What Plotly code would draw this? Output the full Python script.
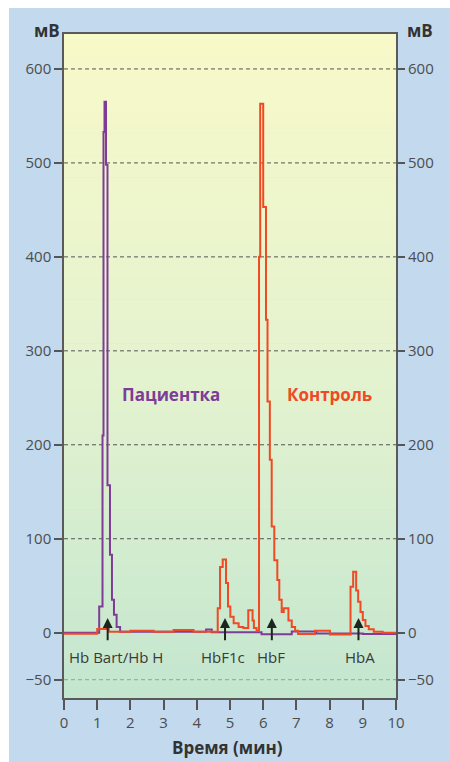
import plotly.graph_objects as go

# ---------------- data ----------------
patient_t = [0.00, 1.06, 1.16, 1.19, 1.22, 1.265, 1.31, 1.385, 1.445, 1.505, 1.585, 1.69,
             4.28, 4.45, 5.95, 6.86, 7.60, 9.00, 10.0]
patient_mv = [0.0, 28, 210, 533, 565, 498, 157, 83, 35, 19, 6, 1,
              3.5, 0.5, -1.7, 1.2, -0.8, -1.5, -1.5]

control_t = [0.00, 1.00, 1.35, 2.00, 2.70, 3.30, 3.90, 4.63, 4.70, 4.78, 4.88, 4.94, 5.01,
             5.11, 5.26, 5.40, 5.55, 5.68, 5.72, 5.80, 5.874, 5.91, 6.00, 6.084, 6.13,
             6.20, 6.256, 6.334, 6.425, 6.485, 6.557, 6.62, 6.76, 6.86, 6.96, 7.05, 7.56,
             8.01, 8.63, 8.71, 8.80, 8.86, 8.93, 9.00, 9.08, 9.18, 9.33, 9.60, 10.0]
control_mv = [-1.0, 4, 1, 2, 1, 3, 1, 26, 70, 78, 53, 28, 17,
              10, 6, 5, 24, 13, 5, 2, 400, 563, 453, 333, 246,
              184, 113, 77, 56, 35, 22, 26, 13, 6, 2, -1.5, 2,
              -2, 49, 65, 45, 33, 22, 13.5, 7, 3.6, 1, 0, 0]

y_ticks = [-50, 0, 100, 200, 300, 400, 500, 600]
x_ticks = list(range(0, 11))
grid_levels = [100, 200, 300, 400, 500, 600]
low_grid = [-50]

peak_names = ["Hb Bart/Hb H", "HbF1c", "HbF", "HbA"]
peak_arrow_t = [1.315, 4.85, 6.26, 8.87]
peak_label_t = [1.57, 4.78, 6.23, 8.93]

series_names = ["Пациентка", "Контроль"]

# ---------------- styling ----------------
Y_RANGE = [-69.5, 637.2]
X_RANGE = [0, 10]
PURPLE = "#7e3c98"
RED = "#ef4a24"
FONT = "Open Sans"

fig = go.Figure()

# gradient background of the plot area (strips)
def mix(c1, c2, f):
    a = [int(c1[i:i + 2], 16) for i in (1, 3, 5)]
    b = [int(c2[i:i + 2], 16) for i in (1, 3, 5)]
    return "rgb(%d,%d,%d)" % tuple(round(a[k] + (b[k] - a[k]) * f) for k in range(3))

stops = [(0.0, "#c3e6cf"), (0.45, "#e2f2cf"), (1.0, "#f8f9c9")]
shapes = [dict(type="rect", xref="paper", yref="paper", x0=-0.1657, x1=1.1627,
               y0=-0.0964, y1=1.0392, fillcolor="#c2d9ee", line_width=0, layer="below")]
N = 60
span = Y_RANGE[1] - Y_RANGE[0]
for i in range(N):
    f = (i + 0.5) / N
    for j in range(len(stops) - 1):
        if stops[j][0] <= f <= stops[j + 1][0]:
            g = (f - stops[j][0]) / (stops[j + 1][0] - stops[j][0])
            col = mix(stops[j][1], stops[j + 1][1], g)
            break
    shapes.append(dict(type="rect", xref="x", yref="y", x0=X_RANGE[0], x1=X_RANGE[1],
                       y0=Y_RANGE[0] + span * i / N, y1=Y_RANGE[0] + span * (i + 1) / N + 0.5,
                       fillcolor=col, line_width=0, layer="below"))

# dummy trace for the right axis
fig.add_trace(go.Scatter(x=[0], y=[0], mode="none", yaxis="y2", hoverinfo="skip", showlegend=False))

# dashed grid lines
for lv in grid_levels:
    fig.add_trace(go.Scatter(x=X_RANGE, y=[lv, lv], mode="lines",
                             line=dict(color="#555555", width=1, dash="4px,3px"),
                             hoverinfo="skip", showlegend=False))
for lv in low_grid:
    fig.add_trace(go.Scatter(x=X_RANGE, y=[lv, lv], mode="lines",
                             line=dict(color="#93b693", width=1.2, dash="4px,3px"),
                             hoverinfo="skip", showlegend=False))

fig.add_trace(go.Scatter(x=patient_t, y=patient_mv, mode="lines", line_shape="hv",
                         line=dict(color=PURPLE, width=2), name=series_names[0], showlegend=False))
fig.add_trace(go.Scatter(x=control_t, y=control_mv, mode="lines", line_shape="hv",
                         line=dict(color=RED, width=2), name=series_names[1], showlegend=False))

annotations = []
for name, ta, tl in zip(peak_names, peak_arrow_t, peak_label_t):
    annotations.append(dict(x=ta, y=15.6, ax=ta, ay=-9.5, xref="x", yref="y", axref="x", ayref="y",
                            text="", showarrow=True, arrowhead=2, arrowsize=1, arrowwidth=2,
                            arrowcolor="#1d261d", standoff=0, startstandoff=0))
    annotations.append(dict(x=tl, y=-26, xref="x", yref="y", text=name, showarrow=False,
                            xanchor="center", yanchor="middle",
                            font=dict(family=FONT, size=15, color="#3a3a3a")))

annotations.append(dict(x=3.22, y=254, xref="x", yref="y", text="<b>%s</b>" % series_names[0],
                        showarrow=False, xanchor="center", yanchor="middle",
                        font=dict(family=FONT, size=17, color=PURPLE)))
annotations.append(dict(x=8.01, y=254, xref="x", yref="y", text="<b>%s</b>" % series_names[1],
                        showarrow=False, xanchor="center", yanchor="middle",
                        font=dict(family=FONT, size=17, color=RED)))

annotations.append(dict(x=-0.0527, y=1.0055, xref="paper", yref="paper", text="<b>мВ</b>",
                        showarrow=False, xanchor="center", yanchor="middle",
                        font=dict(family=FONT, size=17, color="#333333")))
annotations.append(dict(x=1.0723, y=1.0055, xref="paper", yref="paper", text="<b>мВ</b>",
                        showarrow=False, xanchor="center", yanchor="middle",
                        font=dict(family=FONT, size=17, color="#333333")))
annotations.append(dict(x=0.4925, y=-0.0753, xref="paper", yref="paper", text="<b>Время (мин)</b>",
                        showarrow=False, xanchor="center", yanchor="middle",
                        font=dict(family=FONT, size=17, color="#333333")))

tickfont = dict(family=FONT, size=15, color="#4d4d4d")
fig.update_layout(
    width=450, height=762,
    margin=dict(l=64, r=54, t=34, b=64),
    paper_bgcolor="white",
    plot_bgcolor="rgba(0,0,0,0)",
    showlegend=False,
    shapes=shapes,
    annotations=annotations,
    xaxis=dict(range=X_RANGE, tickvals=x_ticks, ticks="outside", ticklen=10, tickwidth=1.5,
               tickcolor="#555555", showgrid=False, zeroline=False, showline=True,
               linecolor="#5a5a5a", linewidth=1.5, mirror=True, tickfont=tickfont),
    yaxis=dict(range=Y_RANGE, tickvals=y_ticks, ticks="outside", ticklen=8, tickwidth=1.5,
               tickcolor="#555555", showgrid=False, zeroline=False, showline=True,
               linecolor="#5a5a5a", linewidth=1.5, mirror=True, tickfont=tickfont),
    yaxis2=dict(range=Y_RANGE, tickvals=y_ticks, ticks="outside", ticklen=8, tickwidth=1.5,
                tickcolor="#555555", showgrid=False, zeroline=False, showline=False,
                overlaying="y", side="right", tickfont=tickfont),
)

fig.write_html("out.html")
